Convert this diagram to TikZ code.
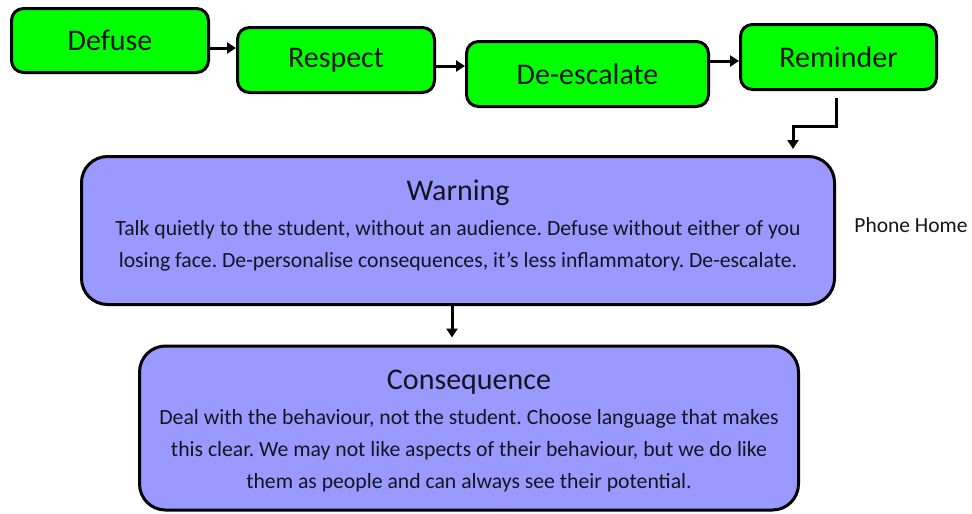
\documentclass[tikz,border=0pt]{standalone}
\usepackage{fontspec}
\setmainfont{Carlito}
\usetikzlibrary{arrows.meta}
\definecolor{gfill}{RGB}{0,255,0}
\definecolor{pfill}{RGB}{153,153,255}
\definecolor{txt}{RGB}{20,20,30}
\begin{document}
\frenchspacing
\begin{tikzpicture}[x=1pt,y=-1pt,
  gbox/.style={draw=black, line width=3pt, fill=gfill, rounded corners=12pt, inner sep=0pt,
    font=\fontsize{30}{34}\selectfont, text=txt},
  pbox/.style={draw=black, line width=3pt, fill=pfill, rounded corners=26pt, inner sep=0pt},
  body/.style={align=center, text=txt, inner sep=0pt, font=\fontsize{21.7}{32}\selectfont},
  ttl/.style={text=txt, inner sep=0pt, font=\fontsize{30}{34}\selectfont},
  arr/.style={line width=3pt, -{Triangle[length=9pt,width=11pt]}}]
\useasboundingbox (0,0) rectangle (972,514);
\node[gbox, minimum width=197pt, minimum height=64pt] (def) at (110,40.5) {Defuse};
\node[gbox, minimum width=197pt, minimum height=65pt] (res) at (336,60) {Respect};
\node[gbox, minimum width=242pt, minimum height=65pt] (des) at (587.5,74) {De-escalate};
\node[gbox, minimum width=196pt, minimum height=65pt] (rem) at (838.5,57) {Reminder};
\node[pbox, minimum width=753pt, minimum height=148pt] (warn) at (458,230.5) {};
\node[ttl] (warnt) at (458,193) {Warning};
\node[body] (warnb) at (458,246)
  {Talk quietly to the student, without an audience. Defuse without either of you\\
   losing face. De-personalise consequences, it’s less inflammatory. De-escalate.};
\node[pbox, minimum width=659pt, minimum height=164pt] (cons) at (469,428) {};
\node[ttl] (const) at (469,382) {Consequence};
\node[body] (consb) at (469,451)
  {Deal with the behaviour, not the student. Choose language that makes\\
   this clear. We may not like aspects of their behaviour, but we do like\\
   them as people and can always see their potential.};
\node[font=\fontsize{21.5}{24}\selectfont, text=txt] (ph) at (911,225) {Phone Home};
\draw[arr] (def.east |- 0,48) -- (res.west |- 0,48);
\draw[arr] (res.east |- 0,66) -- (des.west |- 0,66);
\draw[arr] (des.east |- 0,61) -- (rem.west |- 0,61);
\coordinate (r1) at (836,98);
\coordinate (r2) at (793,149);
\draw[arr] (r1) -- (836,126) -| (r2);
\draw[arr] (warn.south -| 452,0) -- ([yshift=7pt]cons.north -| 452,0);
\end{tikzpicture}
\end{document}
